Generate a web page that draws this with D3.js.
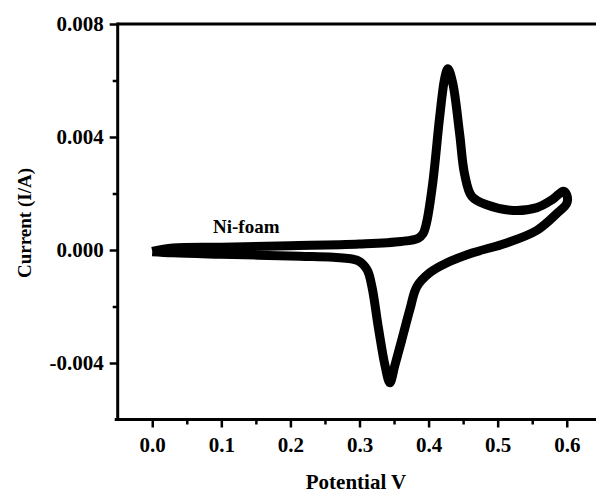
<!DOCTYPE html>
<html>
<head>
<meta charset="utf-8">
<script src="https://cdn.jsdelivr.net/npm/d3@7"></script>
<style>
  html, body { margin: 0; padding: 0; background: #fff; }
  svg { display: block; }
  text { font-family: "Liberation Serif", "Times New Roman", serif; font-weight: bold; fill: #000; }
</style>
</head>
<body>
<svg id="chart" width="596" height="496"></svg>
<script>
// ---- data ----
const forwardV = [0.000, 0.030, 0.100, 0.200, 0.300, 0.360, 0.385, 0.392, 0.397, 0.406, 0.416, 0.4235, 0.428, 0.435, 0.445, 0.452, 0.4625, 0.484, 0.522, 0.557, 0.580, 0.595, 0.600];
const forwardI = [-0.00005, 0.00007, 0.00010, 0.00015, 0.00021, 0.00030, 0.00042, 0.00058, 0.00096, 0.00237, 0.00470, 0.00610, 0.00642, 0.00590, 0.00410, 0.00270, 0.00190, 0.00160, 0.00140, 0.00150, 0.00180, 0.00208, 0.00195];
const reverseV = [0.600, 0.586, 0.557, 0.513, 0.464, 0.426, 0.402, 0.383, 0.373, 0.361, 0.351, 0.344, 0.337, 0.327, 0.318, 0.311, 0.298, 0.262, 0.214, 0.100, 0.030, 0.000];
const reverseI = [0.00165, 0.00130, 0.00070, 0.00025, -0.00010, -0.00046, -0.00080, -0.00130, -0.00210, -0.00320, -0.00410, -0.00470, -0.00410, -0.00270, -0.00130, -0.00070, -0.00038, -0.00026, -0.00022, -0.00015, -0.00010, -0.00006];
const xMajorTicks = [0.0, 0.1, 0.2, 0.3, 0.4, 0.5, 0.6];
const xMinorTicks = [0.05, 0.15, 0.25, 0.35, 0.45, 0.55];
const yMajorTicks = [-0.004, 0.000, 0.004, 0.008];
const yMinorTicks = [-0.002, 0.002, 0.006];
const seriesLabel = "Ni-foam";
const xTitle = "Potential V";
const yTitle = "Current (I/A)";

// ---- layout ----
const svg = d3.select("#chart");
const x = d3.scaleLinear().domain([-0.05, 0.65]).range([117.7, 601.3]);
const y = d3.scaleLinear().domain([-0.006, 0.008]).range([419.5, 24]);

const points = forwardV.map((v, i) => [v, forwardI[i]])
  .concat(reverseV.map((v, i) => [v, reverseI[i]]));

// curve
const line = d3.line()
  .x(d => x(d[0]))
  .y(d => y(d[1]))
  .curve(d3.curveCatmullRom.alpha(0.5));

svg.append("path")
  .datum(points)
  .attr("d", line)
  .attr("fill", "none")
  .attr("stroke", "#000")
  .attr("stroke-width", 9)
  .attr("stroke-linejoin", "round")
  .attr("stroke-linecap", "butt");

// axes
const axisFont = 21;
const fmtY = d => d3.format(".3f")(d).replace("\u2212", "-");
const xAxis = d3.axisBottom(x).tickValues(xMajorTicks).tickFormat(d3.format(".1f")).tickSize(8).tickPadding(10);
const gx = svg.append("g").attr("transform", `translate(0,${y(-0.006)})`).call(xAxis);
gx.select(".domain").remove();
gx.selectAll("line").attr("stroke-width", 2.5);
gx.selectAll("text").attr("font-size", axisFont).attr("font-family", null);
const xMinor = d3.axisBottom(x).tickValues(xMinorTicks).tickFormat("").tickSize(5);
const gxm = svg.append("g").attr("transform", `translate(0,${y(-0.006)})`).call(xMinor);
gxm.select(".domain").remove();
gxm.selectAll("line").attr("stroke-width", 2.5);

const yAxis = d3.axisLeft(y).tickValues(yMajorTicks).tickFormat(fmtY).tickSize(8).tickPadding(6);
const gy = svg.append("g").attr("transform", `translate(${x(-0.05)},0)`).call(yAxis);
gy.select(".domain").remove();
gy.selectAll("line").attr("stroke-width", 2.5);
gy.selectAll("text").attr("font-size", axisFont).attr("font-family", null);
const yMinor = d3.axisLeft(y).tickValues(yMinorTicks).tickFormat("").tickSize(5);
const gym = svg.append("g").attr("transform", `translate(${x(-0.05)},0)`).call(yMinor);
gym.select(".domain").remove();
gym.selectAll("line").attr("stroke-width", 2.5);

// frame lines (left, bottom, top)
const x0 = x(-0.05), y0 = y(-0.006), yTop = y(0.008);
svg.append("line").attr("x1", x0).attr("x2", x0).attr("y1", yTop - 1.5).attr("y2", y0 + 1.5)
  .attr("stroke", "#000").attr("stroke-width", 3);
svg.append("line").attr("x1", x0 - 3).attr("x2", 596).attr("y1", y0).attr("y2", y0)
  .attr("stroke", "#000").attr("stroke-width", 3);
svg.append("line").attr("x1", x0).attr("x2", 596).attr("y1", yTop).attr("y2", yTop)
  .attr("stroke", "#000").attr("stroke-width", 3);

// labels
svg.append("text").attr("x", 213).attr("y", 233).attr("font-size", 19).text(seriesLabel);

svg.append("text").attr("x", 356).attr("y", 489).attr("text-anchor", "middle")
  .attr("font-size", 21).text(xTitle);

svg.append("text").attr("transform", `translate(31,223) rotate(-90)`)
  .attr("text-anchor", "middle").attr("font-size", 19).text(yTitle);
</script>
</body>
</html>
